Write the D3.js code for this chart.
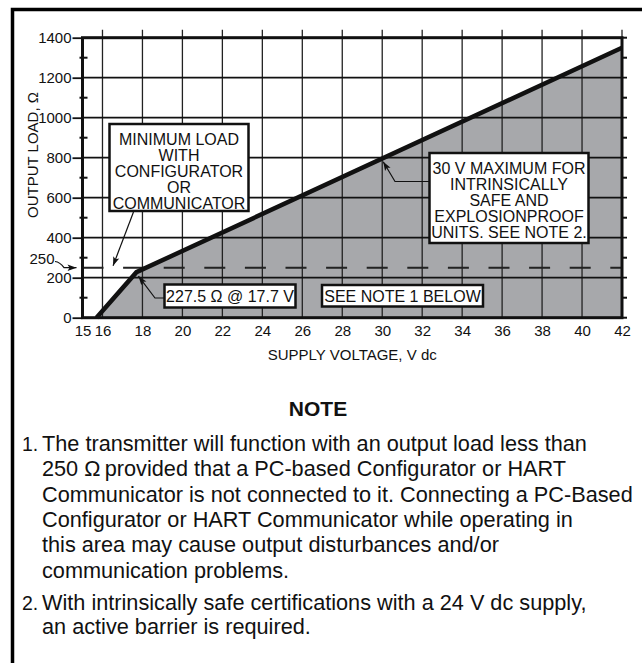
<!DOCTYPE html>
<html><head><meta charset="utf-8">
<script src="https://cdn.jsdelivr.net/npm/d3@7"></script>
<style>
html,body{margin:0;padding:0;background:#fff;}
svg{display:block;font-family:"Liberation Sans",Arial,Helvetica,sans-serif;}
</style></head>
<body><svg id="c" width="642" height="663"></svg>
<script>
// ---- data ----
const xDomain = [15, 42];
const yDomain = [0, 1400];
const xTickValues = [15, 16, 18, 20, 22, 24, 26, 28, 30, 32, 34, 36, 38, 40, 42];
const xGridValues = [16, 18, 20, 22, 24, 26, 28, 30, 32, 34, 36, 38, 40];
const yTickValues = [0, 200, 400, 600, 800, 1000, 1200, 1400];
const yGridValues = [200, 400, 600, 800, 1000, 1200];
const yMinorValues = [100, 300, 500, 700, 900, 1100, 1300];
const curveVolts = [15.7, 17.7, 42];
const curveLoad = [0, 227.5, 1350];
const minLoadValue = 250;
const kinkVolts = 17.7, kinkLoad = 227.5;
const maxVolts = 30, maxVoltsLoad = 800;
const xTitle = "SUPPLY VOLTAGE, V dc";
const yTitle = "OUTPUT LOAD, \u03A9";
const boxMinLoad = ["MINIMUM LOAD", "WITH", "CONFIGURATOR", "OR", "COMMUNICATOR"];
const boxMax = ["30 V MAXIMUM FOR", "INTRINSICALLY", "SAFE AND", "EXPLOSIONPROOF", "UNITS. SEE NOTE 2."];
const kinkLabel = "227.5 \u03A9 @ 17.7 V";
const seeNoteLabel = "SEE NOTE 1 BELOW";
const noteTitle = "NOTE";
const note1 = ["The transmitter will function with an output load less than",
  "250 \u03A9\u2009provided that a PC-based Configurator or HART",
  "Communicator is not connected to it. Connecting a PC-Based",
  "Configurator or HART Communicator while operating in",
  "this area may cause output disturbances and/or",
  "communication problems."];
const note2 = ["With intrinsically safe certifications with a 24 V dc supply,",
  "an active barrier is required."];

// ---- drawing ----
const svg = d3.select("#c");
const x = d3.scaleLinear().domain(xDomain).range([82.5, 622]);
const y = d3.scaleLinear().domain(yDomain).range([317.7, 37.7]);

svg.append("defs").append("marker")
  .attr("id", "arr").attr("viewBox", "-10 -5 12 10")
  .attr("refX", 0).attr("refY", 0).attr("markerWidth", 12).attr("markerHeight", 10)
  .attr("markerUnits", "userSpaceOnUse").attr("orient", "auto")
  .append("path").attr("d", "M0,0 L-9,-3.2 L-7,0 L-9,3.2 Z").attr("fill", "#111");

// outer frame
svg.append("rect").attr("x", 12.5).attr("y", 9.5).attr("width", 800).attr("height", 800)
  .attr("fill", "none").attr("stroke", "#000").attr("stroke-width", 3.5);

// area under curve
const pts = curveVolts.map((v, i) => [v, curveLoad[i]]);
svg.append("path")
  .attr("d", d3.area().x(d => x(d[0])).y0(y(0)).y1(d => y(d[1]))(pts))
  .attr("fill", "#a7a8ab");

// grid
svg.append("g").selectAll("line").data(xGridValues).join("line")
  .attr("x1", d => x(d)).attr("x2", d => x(d)).attr("y1", y(1400) - 8).attr("y2", y(0))
  .attr("stroke", "#222").attr("stroke-width", 1.3);
svg.append("line").attr("x1", x(42)).attr("x2", x(42)).attr("y1", y(1400) - 8).attr("y2", y(1400))
  .attr("stroke", "#222").attr("stroke-width", 1.3);
svg.append("g").selectAll("line").data(yGridValues).join("line")
  .attr("x1", x(15)).attr("x2", x(42) + 5).attr("y1", d => y(d)).attr("y2", d => y(d))
  .attr("stroke", "#111").attr("stroke-width", 1.8);

// minimum-load dashed line
svg.append("line").attr("x1", x(15)).attr("x2", x(42)).attr("y1", y(minLoadValue)).attr("y2", y(minLoadValue))
  .attr("stroke", "#222").attr("stroke-width", 2).attr("stroke-dasharray", "21,19.6");

// curve
svg.append("path").attr("d", d3.line().x(d => x(d[0])).y(d => y(d[1]))(pts))
  .attr("fill", "none").attr("stroke", "#111").attr("stroke-width", 4.5).attr("stroke-linejoin", "miter");

// plot frame
svg.append("rect").attr("x", x(15)).attr("y", y(1400)).attr("width", x(42) - x(15)).attr("height", y(0) - y(1400))
  .attr("fill", "none").attr("stroke", "#111").attr("stroke-width", 3);

// y axis ticks and labels
const yAxis = d3.axisLeft(y).tickValues(yTickValues).tickSize(10).tickPadding(1).tickFormat(d3.format("d"));
const gy = svg.append("g").attr("transform", `translate(${x(15)},0)`).call(yAxis);
gy.select(".domain").remove();
gy.selectAll(".tick line").attr("stroke", "#111").attr("stroke-width", 1.8);
gy.selectAll(".tick text").attr("font-size", 15).attr("fill", "#111")
  .attr("font-family", "Liberation Sans, Arial, sans-serif");
// minor ticks
svg.append("g").selectAll("line").data(yMinorValues).join("line")
  .attr("x1", x(15) - 3).attr("x2", x(15) + 5).attr("y1", d => y(d)).attr("y2", d => y(d))
  .attr("stroke", "#111").attr("stroke-width", 2);
svg.append("g").selectAll("line").data(yMinorValues.concat([1400, 0])).join("line")
  .attr("x1", x(42)).attr("x2", x(42) + 5).attr("y1", d => y(d)).attr("y2", d => y(d))
  .attr("stroke", "#111").attr("stroke-width", 2);

// x axis labels
const xAxis = d3.axisBottom(x).tickValues(xTickValues).tickSize(0).tickPadding(8).tickFormat(d3.format("d"));
const gx = svg.append("g").attr("transform", `translate(0,${y(0)})`).call(xAxis);
gx.select(".domain").remove();
gx.selectAll(".tick text").attr("font-size", 15).attr("fill", "#111")
  .attr("font-family", "Liberation Sans, Arial, sans-serif");

// axis titles
svg.append("text").attr("x", x(28.5)).attr("y", 360).attr("text-anchor", "middle")
  .attr("font-size", 15).attr("fill", "#111").text(xTitle);
svg.append("text").attr("transform", "translate(38,155) rotate(-90)").attr("text-anchor", "middle")
  .attr("font-size", 15).attr("fill", "#111").text(yTitle);

// 250 label with leader
svg.append("text").attr("x", 42).attr("y", 264).attr("text-anchor", "middle")
  .attr("font-size", 15).attr("fill", "#111").text(String(minLoadValue));
svg.append("path").attr("d", `M55,261.5 Q60,262 64,${y(minLoadValue)} L${x(15) - 6},${y(minLoadValue)}`)
  .attr("fill", "none").attr("stroke", "#111").attr("stroke-width", 1.2).attr("marker-end", "url(#arr)");

// boxes
function box(x0, y0, w, h, lines, lh, firstBase) {
  svg.append("rect").attr("x", x0).attr("y", y0).attr("width", w).attr("height", h)
    .attr("fill", "#fff").attr("stroke", "#111").attr("stroke-width", 2.5);
  lines.forEach((t, i) => {
    svg.append("text").attr("x", x0 + w / 2).attr("y", y0 + firstBase + i * lh)
      .attr("text-anchor", "middle").attr("font-size", 16).attr("fill", "#111").text(t);
  });
}
box(109.5, 124, 139, 87, boxMinLoad, 16.2, 20.5);
box(429.5, 153, 159, 90, boxMax, 16.2, 20.5);
box(164.5, 284.5, 131, 23, [kinkLabel], 0, 17.5);
box(322, 285, 161, 21.5, [seeNoteLabel], 0, 16.8);

// leaders
function leader(d) {
  svg.append("path").attr("d", d).attr("fill", "none").attr("stroke", "#111")
    .attr("stroke-width", 1.2).attr("marker-end", "url(#arr)");
}
leader(`M133.5,212 L${x(16.53)},${y(minLoadValue) - 2}`);
leader(`M164,298 L155,298 L${x(kinkVolts) + 2},${y(kinkLoad) + 4}`);
leader(`M429,181.5 L395,181.5 L${x(maxVolts) + 1},${y(maxVoltsLoad) + 4}`);

// notes
svg.append("text").attr("x", 318).attr("y", 415.5).attr("text-anchor", "middle")
  .attr("font-size", 21).attr("font-weight", "bold").attr("fill", "#111").text(noteTitle);
const nfs = 21.7, lh = 25.3;
const numAttrs = s => s.attr("font-size", 19.5).attr("fill", "#111");
svg.append("text").attr("x", 22).attr("y", 451).call(numAttrs).text("1.");
note1.forEach((t, i) => svg.append("text").attr("x", 42).attr("y", 451 + i * lh)
  .attr("font-size", nfs).attr("fill", "#111").text(t));
svg.append("text").attr("x", 22).attr("y", 610).call(numAttrs).text("2.");
note2.forEach((t, i) => svg.append("text").attr("x", 42).attr("y", 610 + i * 23.5)
  .attr("font-size", nfs).attr("fill", "#111").text(t));
</script></body></html>
